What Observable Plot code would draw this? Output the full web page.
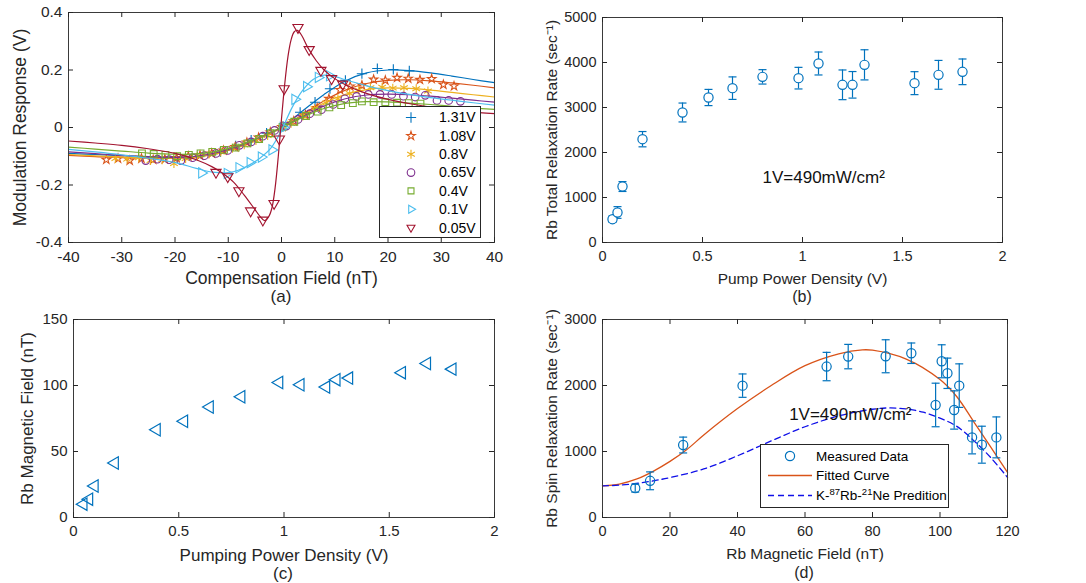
<!DOCTYPE html>
<html><head><meta charset="utf-8">
<script src="https://cdn.jsdelivr.net/npm/d3@7"></script>
<script src="https://cdn.jsdelivr.net/npm/@observablehq/plot@0.6"></script>
<style>
body{margin:0;background:#fff;font-family:"Liberation Sans",Arial,Helvetica,sans-serif;}
#root{position:relative;width:1086px;height:583px;overflow:hidden;background:#fff;}
.cap{position:absolute;color:#262626;transform:translate(-50%,-50%);white-space:nowrap;}
</style></head><body><div id="root"></div>
<script>
// ---------- Panel (a) data ----------
const aSeries = ["1.31V","1.08V","0.8V","0.65V","0.4V","0.1V","0.05V"];
const aColors = ["#0072BD","#D95319","#EDB120","#7E2F8E","#77AC30","#4DBEEE","#A2142F"];
const aSymbols = ["plus","star","asterisk","circle","square","triangle","triangle"];
const aRotate = [0,0,0,0,0,90,180];

const a131X = [-11.5,-8.6,-5.7,-2.8,0.3,3.5,6.3,9.1,12.0,15.1,18.0,21.0,24.0];
const a131Y = [-0.085,-0.064,-0.044,-0.02,0.004,0.053,0.088,0.135,0.164,0.187,0.205,0.202,0.197];
const a108X = [-32.9,-30.7,-28.5,-26.3,-24.1,-21.9,-19.7,-17.5,-15.3,-13.1,-10.9,-8.7,-6.5,-4.3,-2.1,0.1,2.3,4.5,6.7,8.9,11.0,12.9,15.1,17.3,19.5,21.7,23.8,26.0,28.2,30.4,32.4];
const a108Y = [-0.112,-0.108,-0.115,-0.108,-0.112,-0.11,-0.106,-0.1,-0.097,-0.09,-0.08,-0.068,-0.052,-0.035,-0.017,0.002,0.022,0.043,0.068,0.1,0.131,0.143,0.147,0.167,0.164,0.173,0.17,0.166,0.169,0.149,0.144];
const a080X = [-31.2,-29,-26.8,-24.6,-22.4,-20.2,-18,-15.8,-13.6,-11.4,-9.2,-7,-4.8,-2.6,-0.4,1.8,4.0,6.2,8.4,10.6,12.8,14.5,16.7,18.9,20.9,23.0,25.3,27.5];
const a080Y = [-0.108,-0.11,-0.105,-0.115,-0.112,-0.125,-0.108,-0.1,-0.092,-0.085,-0.072,-0.06,-0.045,-0.028,-0.005,0.015,0.04,0.065,0.085,0.1,0.118,0.13,0.138,0.14,0.137,0.138,0.135,0.127];
const a065X = [-25.5,-23.3,-21.1,-18.9,-16.7,-14.5,-12.3,-10.1,-7.9,-5.7,-3.5,-1.3,0.9,3.1,5.3,7.5,9.7,11.9,14.1,16.3,18.5,20.7,22.9,25.1,27.0,29.2,31.4,33.6];
const a065Y = [-0.115,-0.11,-0.112,-0.115,-0.105,-0.098,-0.09,-0.08,-0.062,-0.05,-0.03,-0.01,0.005,0.028,0.048,0.062,0.08,0.1,0.108,0.115,0.115,0.115,0.109,0.106,0.112,0.094,0.094,0.091];
const a040X = [-26.2,-24,-21.8,-19.6,-17.4,-15.2,-13,-10.8,-8.6,-6.4,-4.2,-2,0.2,2.4,4.6,6.8,9,11.2,13.4,15.1,17.3,19.5,21.7,23.9,26.1];
const a040Y = [-0.09,-0.092,-0.095,-0.1,-0.095,-0.09,-0.085,-0.078,-0.07,-0.055,-0.04,-0.02,0.002,0.02,0.04,0.055,0.07,0.078,0.085,0.091,0.088,0.088,0.086,0.085,0.083];
const a010X = [-15,-10.2,-8,-5.9,-3.8,-1.8,0.3,2.5,4.7,6.9,9.0];
const a010Y = [-0.158,-0.16,-0.14,-0.122,-0.103,-0.078,0.0,0.098,0.142,0.174,0.18];
const a005X = [-12.3,-10.1,-8.0,-5.8,-3.5,-1.4,-0.4,0.5,3.1,5.2,7.4,9.4,11.5];
const a005Y = [-0.156,-0.171,-0.22,-0.29,-0.322,-0.264,-0.04,0.135,0.348,0.271,0.199,0.17,0.151];

// fitted curves
const aFitX = [-40,-35,-30,-25,-20,-16,-12,-8,-4,0,4,8,12,16,20,24,28,32,36,40];
const aFit131 = [-0.09,-0.094,-0.098,-0.101,-0.103,-0.1,-0.09,-0.068,-0.037,0,0.058,0.115,0.162,0.19,0.2,0.198,0.19,0.179,0.167,0.156];
const aFit108 = [-0.097,-0.101,-0.105,-0.107,-0.107,-0.102,-0.09,-0.066,-0.035,0,0.045,0.093,0.13,0.153,0.164,0.166,0.162,0.155,0.147,0.138];
const aFit080 = [-0.094,-0.099,-0.103,-0.106,-0.106,-0.101,-0.088,-0.065,-0.034,0,0.042,0.085,0.115,0.132,0.138,0.136,0.13,0.122,0.114,0.106];
const aFit065 = [-0.085,-0.091,-0.097,-0.102,-0.104,-0.1,-0.087,-0.064,-0.033,0,0.038,0.075,0.1,0.113,0.116,0.114,0.109,0.102,0.095,0.088];
const aFit040 = [-0.068,-0.075,-0.082,-0.089,-0.093,-0.092,-0.082,-0.062,-0.033,0,0.036,0.066,0.084,0.09,0.089,0.085,0.08,0.074,0.068,0.063];
const aFit010X = [-40,-35,-30,-25,-20,-16,-13,-10,-8,-6,-4,-2,0,2,4,6,8,10,12,16,20,24,28,32,36,40];
const aFit010 = [-0.076,-0.085,-0.095,-0.107,-0.122,-0.142,-0.155,-0.157,-0.148,-0.13,-0.106,-0.072,-0.01,0.07,0.13,0.168,0.182,0.178,0.166,0.145,0.128,0.115,0.104,0.095,0.086,0.078];
const aFit005X = [-40,-35,-30,-25,-20,-16,-13,-11,-9,-7,-5,-4,-3.2,-2.4,-1.8,-1.2,-0.6,0,0.6,1.2,1.8,2.4,3,3.8,5,6.5,8,10,12,15,20,25,30,35,40];
const aFit005 = [-0.047,-0.054,-0.062,-0.074,-0.09,-0.112,-0.137,-0.16,-0.19,-0.235,-0.285,-0.31,-0.324,-0.31,-0.28,-0.21,-0.1,0.03,0.15,0.245,0.305,0.333,0.338,0.32,0.276,0.233,0.2,0.17,0.149,0.125,0.098,0.08,0.066,0.055,0.048];

const aMarkX = [a131X,a108X,a080X,a065X,a040X,a010X,a005X];
const aMarkY = [a131Y,a108Y,a080Y,a065Y,a040Y,a010Y,a005Y];
const aCurveX = [aFitX,aFitX,aFitX,aFitX,aFitX,aFit010X,aFit005X];
const aCurveY = [aFit131,aFit108,aFit080,aFit065,aFit040,aFit010,aFit005];
const aXTicks = [-40,-30,-20,-10,0,10,20,30,40];
const aYTicks = [-0.4,-0.2,0,0.2,0.4];

// ---------- Panel (b) data ----------
const bPower = [0.05,0.075,0.10,0.20,0.40,0.53,0.65,0.80,0.98,1.08,1.20,1.25,1.31,1.56,1.68,1.80];
const bRate  = [518,667,1244,2296,2889,3222,3430,3681,3652,3978,3504,3504,3948,3541,3726,3793];
const bErr   = [70,130,110,170,210,180,250,160,240,255,330,295,335,255,320,285];
const bXTicks = [0,0.5,1,1.5,2];
const bYTicks = [0,1000,2000,3000,4000,5000];

// ---------- Panel (c) data ----------
const cPower = [0.047,0.074,0.10,0.196,0.395,0.525,0.647,0.797,0.977,1.078,1.2,1.249,1.309,1.56,1.679,1.8];
const cField = [10.1,13.9,23.9,41.3,66.5,72.9,83.7,91.5,102.3,100.6,98.8,104.4,105.6,109.7,116.7,112.4];
const cXTicks = [0,0.5,1,1.5,2];
const cYTicks = [0,50,100,150];

// ---------- Panel (d) data ----------
const dField = [9.7,14.1,23.9,41.5,66.4,72.8,83.9,91.5,98.7,100.5,102.2,104.2,105.7,109.5,112.4,116.7];
const dRate  = [445,556,1098,1998,2287,2438,2443,2489,1705,2367,2185,1629,1998,1214,1103,1214];
const dErr   = [60,135,120,177,215,185,250,155,330,250,230,290,330,250,280,310];
const dFitX  = [0,5,10,15,20,25,30,40,50,60,70,77,80,90,100,105,110,115,120];
const dFit   = [480,506,580,700,850,1030,1250,1650,2000,2300,2480,2540,2535,2400,2090,1830,1450,1070,683];
const dPredX = [0,5,10,15,20,30,40,50,60,70,80,85,90,95,100,105,110,115,120];
const dPred  = [480,490,515,555,605,735,935,1160,1375,1540,1640,1660,1645,1595,1505,1380,1165,910,607];
const dXTicks = [0,20,40,60,80,100,120];
const dYTicks = [0,1000,2000,3000];

// ---------- helpers ----------
const FONT = '"Liberation Sans", Arial, Helvetica, sans-serif';
const INK = "#262626";
const BLUE = "#0072BD";
const root = document.getElementById("root");
const fmt = d => String(d);
const capSym = {draw(ctx){ ctx.moveTo(-4,0); ctx.lineTo(4,0); }};
const markR = s => s === "plus" ? 3.4 : s === "star" ? 2.7 : s === "asterisk" ? 4.2 : 3.8;

function place(el, left, top){
  el.style.position = "absolute"; el.style.left = left + "px"; el.style.top = top + "px";
  root.appendChild(el);
}
function caption(txt, cx, cy, fs){
  const d = document.createElement("div"); d.className = "cap"; d.textContent = txt;
  d.style.left = cx + "px"; d.style.top = cy + "px"; d.style.fontSize = fs + "px"; root.appendChild(d);
}
function boxMarks(xt, yt, fw, fh, fs){
  const tl = 5;
  return [
    Plot.frame({stroke: "#3a3a3a", strokeWidth: 1}),
    Plot.tickX(xt, {x: d => d, insetTop: fh - tl, stroke: INK}),
    Plot.tickX(xt, {x: d => d, insetBottom: fh - tl, stroke: INK}),
    Plot.tickY(yt, {y: d => d, insetRight: fw - tl, stroke: INK}),
    Plot.tickY(yt, {y: d => d, insetLeft: fw - tl, stroke: INK}),
    Plot.axisX({ticks: xt, tickSize: 0, tickPadding: 8, tickFormat: fmt, label: null, fontSize: fs}),
    Plot.axisY({ticks: yt, tickSize: 0, tickPadding: 6, tickFormat: fmt, label: null, fontSize: fs})
  ];
}
function labels(xl, yl, xdy, ydx, fs){
  return [
    Plot.text([xl], {frameAnchor: "bottom", dy: xdy, text: d => d, fontSize: fs, fill: INK, textAnchor: "middle", lineAnchor: "middle"}),
    Plot.text([yl], {frameAnchor: "left", dx: ydx, rotate: -90, text: d => d, fontSize: fs, fill: INK, textAnchor: "middle", lineAnchor: "middle"})
  ];
}
const baseStyle = {fontFamily: FONT, fontSize: "14px", color: INK, background: "transparent", overflow: "visible"};

// ---------- Panel (a) ----------
{
  const W = 510, H = 300, mL = 68, mR = 16, mT = 12, mB = 58;
  const fw = W - mL - mR, fh = H - mT - mB;
  const marks = [];
  aSeries.forEach((s, i) => {
    const curve = aCurveX[i].map((x, j) => ({x, y: aCurveY[i][j]}));
    const pts = aMarkX[i].map((x, j) => ({x, y: aMarkY[i][j]}));
    marks.push(Plot.line(curve, {x: "x", y: "y", stroke: aColors[i], strokeWidth: 1.2, curve: "catmull-rom"}));
    marks.push(Plot.dot(pts, {x: "x", y: "y", stroke: aColors[i], symbol: aSymbols[i], rotate: aRotate[i], r: markR(aSymbols[i]), strokeWidth: 1.1, fill: "none"}));
  });
  const p = Plot.plot({
    width: W, height: H, marginLeft: mL, marginRight: mR, marginTop: mT, marginBottom: mB,
    x: {domain: [-40, 40]}, y: {domain: [-0.4, 0.4]},
    style: baseStyle,
    marks: [...marks, ...boxMarks(aXTicks, aYTicks, fw, fh, 15.5), ...labels("Compensation Field (nT)", "Modulation Response (V)", 36, -48, 17.5)]
  });
  place(p, 0, 0);

  // legend
  const symType = {plus: d3.symbolPlus, star: d3.symbolStar, asterisk: d3.symbolAsterisk, circle: d3.symbolCircle, square: d3.symbolSquare2, triangle: d3.symbolTriangle2};
  const lg = d3.create("svg").attr("width", 102).attr("height", 132).style("overflow", "visible");
  lg.append("rect").attr("x", 0.5).attr("y", 0.5).attr("width", 101).attr("height", 131).attr("fill", "white").attr("stroke", INK);
  aSeries.forEach((s, i) => {
    const cy = 11.5 + i * 18.35;
    const r = markR(aSymbols[i]);
    lg.append("path").attr("d", d3.symbol(symType[aSymbols[i]], Math.PI * r * r)())
      .attr("transform", `translate(32,${cy}) rotate(${aRotate[i]})`)
      .attr("fill", "none").attr("stroke", aColors[i]).attr("stroke-width", 1.1);
    lg.append("text").attr("x", 60).attr("y", cy).attr("dy", "0.35em")
      .attr("font-family", FONT).attr("font-size", 14).attr("fill", "#000").text(s);
  });
  place(lg.node(), 379, 106);
  caption("(a)", 281, 297, 17);
}

// ---------- Panel (b) ----------
{
  const W = 576, H = 300, mL = 92, mR = 84, mT = 17, mB = 58;
  const fw = W - mL - mR, fh = H - mT - mB;
  const data = bPower.map((x, i) => ({x, y: bRate[i], e: bErr[i]}));
  const p = Plot.plot({
    width: W, height: H, marginLeft: mL, marginRight: mR, marginTop: mT, marginBottom: mB,
    x: {domain: [0, 2]}, y: {domain: [0, 5000]},
    style: baseStyle,
    marks: [
      Plot.ruleX(data, {x: "x", y1: d => d.y - d.e, y2: d => d.y + d.e, stroke: BLUE, strokeWidth: 1.2}),
      Plot.dot(data, {x: "x", y: d => d.y + d.e, symbol: capSym, stroke: BLUE, strokeWidth: 1.2}),
      Plot.dot(data, {x: "x", y: d => d.y - d.e, symbol: capSym, stroke: BLUE, strokeWidth: 1.2}),
      Plot.dot(data, {x: "x", y: "y", r: 4.6, stroke: BLUE, fill: "white", strokeWidth: 1.2}),
      Plot.text(["1V=490mW/cm²"], {x: 0.8, y: 1444, text: d => d, textAnchor: "start", fontSize: 17, fill: "#111"}),
      ...boxMarks(bXTicks, bYTicks, fw, fh, 14.5),
      ...labels("Pump Power Density (V)", "Rb Total Relaxation Rate (sec⁻¹)", 37, -50, 15.5)
    ]
  });
  place(p, 510, 0);
  caption("(b)", 802, 297, 16);
}

// ---------- Panel (c) ----------
{
  const W = 510, H = 283, mL = 73, mR = 16, mT = 19, mB = 66;
  const fw = W - mL - mR, fh = H - mT - mB;
  const data = cPower.map((x, i) => ({x, y: cField[i]}));
  const p = Plot.plot({
    width: W, height: H, marginLeft: mL, marginRight: mR, marginTop: mT, marginBottom: mB,
    x: {domain: [0, 2]}, y: {domain: [0, 150]},
    style: baseStyle,
    marks: [
      Plot.dot(data, {x: "x", y: "y", symbol: "triangle", rotate: -90, r: 4.6, stroke: BLUE, fill: "none", strokeWidth: 1.2}),
      ...boxMarks(cXTicks, cYTicks, fw, fh, 15),
      ...labels("Pumping Power Density (V)", "Rb Magnetic Field (nT)", 38, -46, 17)
    ]
  });
  place(p, 0, 300);
  caption("(c)", 283, 574, 17);
}

// ---------- Panel (d) ----------
{
  const W = 576, H = 283, mL = 92, mR = 79, mT = 19, mB = 66;
  const fw = W - mL - mR, fh = H - mT - mB;
  const data = dField.map((x, i) => ({x, y: dRate[i], e: dErr[i]}));
  const fit = dFitX.map((x, i) => ({x, y: dFit[i]}));
  const pred = dPredX.map((x, i) => ({x, y: dPred[i]}));
  const p = Plot.plot({
    width: W, height: H, marginLeft: mL, marginRight: mR, marginTop: mT, marginBottom: mB,
    x: {domain: [0, 120]}, y: {domain: [0, 3000]},
    style: baseStyle,
    marks: [
      Plot.line(fit, {x: "x", y: "y", stroke: "#D95319", strokeWidth: 1.3, curve: "catmull-rom"}),
      Plot.line(pred, {x: "x", y: "y", stroke: "#1010E8", strokeWidth: 1.3, strokeDasharray: "6,4", curve: "catmull-rom"}),
      Plot.ruleX(data, {x: "x", y1: d => d.y - d.e, y2: d => d.y + d.e, stroke: BLUE, strokeWidth: 1.2}),
      Plot.dot(data, {x: "x", y: d => d.y + d.e, symbol: capSym, stroke: BLUE, strokeWidth: 1.2}),
      Plot.dot(data, {x: "x", y: d => d.y - d.e, symbol: capSym, stroke: BLUE, strokeWidth: 1.2}),
      Plot.dot(data, {x: "x", y: "y", r: 4.6, stroke: BLUE, fill: "none", strokeWidth: 1.2}),
      Plot.text(["1V=490mW/cm²"], {x: 55.3, y: 1560, text: d => d, textAnchor: "start", fontSize: 17, fill: "#111"}),
      ...boxMarks(dXTicks, dYTicks, fw, fh, 14.5),
      ...labels("Rb Magnetic Field (nT)", "Rb Spin Relaxation Rate (sec⁻¹)", 37, -50, 15.5)
    ]
  });
  place(p, 510, 300);

  const lg = d3.create("svg").attr("width", 189).attr("height", 64).style("overflow", "visible");
  lg.append("rect").attr("x", 0.5).attr("y", 0.5).attr("width", 188).attr("height", 63).attr("fill", "white").attr("stroke", INK);
  const rows = [12, 31.5, 51.5];
  lg.append("circle").attr("cx", 30).attr("cy", rows[0]).attr("r", 4.6).attr("fill", "none").attr("stroke", BLUE).attr("stroke-width", 1.2);
  lg.append("line").attr("x1", 8).attr("x2", 52).attr("y1", rows[1]).attr("y2", rows[1]).attr("stroke", "#D95319").attr("stroke-width", 1.3);
  lg.append("line").attr("x1", 8).attr("x2", 52).attr("y1", rows[2]).attr("y2", rows[2]).attr("stroke", "#1010E8").attr("stroke-width", 1.3).attr("stroke-dasharray", "6,4");
  const tx = (y) => lg.append("text").attr("x", 56).attr("y", y).attr("dy", "0.35em").attr("font-family", FONT).attr("font-size", 13.5).attr("fill", "#000");
  tx(rows[0]).text("Measured Data");
  tx(rows[1]).text("Fitted Curve");
  const t3 = tx(rows[2]);
  t3.append("tspan").text("K-");
  t3.append("tspan").attr("dy", -5).attr("font-size", 9.5).text("87");
  t3.append("tspan").attr("dy", 5).text("Rb-");
  t3.append("tspan").attr("dy", -5).attr("font-size", 9.5).text("21");
  t3.append("tspan").attr("dy", 5).text("Ne Predition");
  place(lg.node(), 760, 444);
  caption("(d)", 804, 573, 16);
}
</script></body></html>
